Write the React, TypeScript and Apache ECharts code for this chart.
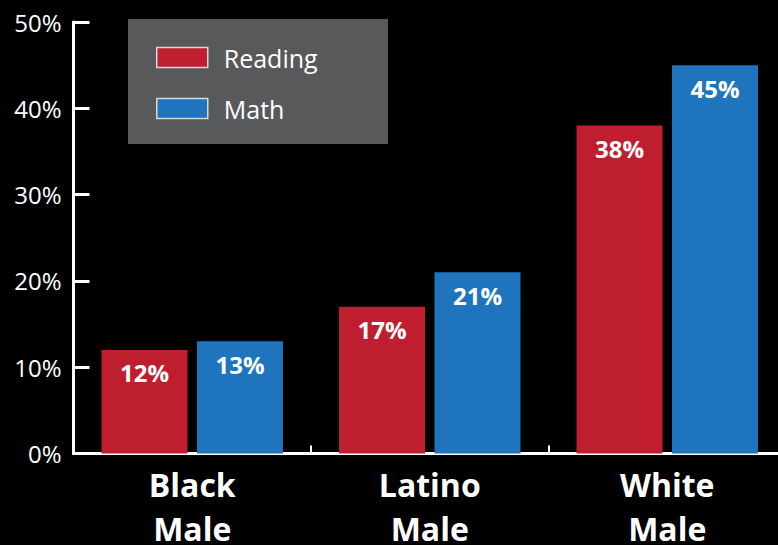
import React, { useEffect, useRef } from "react";
import * as echarts from "echarts";

const categories = ["Black\nMale", "Latino\nMale", "White\nMale"];
const readingValues = [12, 17, 38];
const mathValues = [13, 21, 45];
const yTicks = [0, 10, 20, 30, 40, 50];

const FONT = "'Open Sans', 'Noto Sans', sans-serif";

export default function App() {
  const ref = useRef<HTMLDivElement>(null);
  useEffect(() => {
    if (!ref.current) return;
    const chart = echarts.init(ref.current, null, { renderer: "svg" });
    const labelCfg = {
      show: true,
      position: "insideTop",
      distance: 11,
      color: "#ffffff",
      fontSize: 24,
      fontWeight: "bold",
      fontFamily: FONT,
      formatter: (p: any) => p.value + "%",
    };
    chart.setOption({
      animation: false,
      backgroundColor: "#000000",
      graphic: [
        {
          type: "rect",
          left: 128,
          top: 19,
          shape: { width: 260, height: 125 },
          style: { fill: "#58595b" },
          z: 0,
        },
      ],
      legend: {
        orient: "vertical",
        left: 151,
        top: 40,
        itemWidth: 51,
        itemHeight: 20,
        itemGap: 26,
        icon: "rect",
        z: 5,
        itemStyle: { borderColor: "#d8d8d8", borderWidth: 1.5 },
        textStyle: {
          color: "#ffffff",
          fontSize: 25,
          fontFamily: FONT,
          fontWeight: "normal",
          padding: [0, 0, 0, 11],
        },
        data: ["Reading", "Math"],
      },
      grid: {
        left: 73.5,
        right: -8,
        top: 22,
        bottom: 91.5,
        containLabel: false,
        outerBoundsMode: "none",
      },
      xAxis: {
        type: "category",
        data: categories,
        axisLine: { show: true, lineStyle: { color: "#ffffff", width: 3 } },
        axisTick: { show: true, inside: true, length: 8, lineStyle: { color: "#ffffff", width: 2 } },
        axisLabel: {
          color: "#ffffff",
          fontSize: 32,
          fontWeight: "bold",
          fontFamily: FONT,
          lineHeight: 44,
          margin: 9,
        },
      },
      yAxis: {
        type: "value",
        min: 0,
        max: 50,
        interval: 10,
        splitLine: { show: false },
        axisLine: { show: true, lineStyle: { color: "#ffffff", width: 3 } },
        axisTick: { show: true, inside: true, length: 16, lineStyle: { color: "#ffffff", width: 3 } },
        axisLabel: {
          color: "#ffffff",
          fontSize: 24,
          fontFamily: FONT,
          fontWeight: "normal",
          margin: 12,
          padding: [6, 0, 0, 0],
          formatter: (v: number) => (yTicks.includes(v) ? v + "%" : ""),
        },
      },
      series: [
        {
          name: "Reading",
          type: "bar",
          data: readingValues,
          barWidth: 86,
          barGap: "11%",
          itemStyle: { color: "#be1e2d" },
          label: labelCfg,
        },
        {
          name: "Math",
          type: "bar",
          data: mathValues,
          barWidth: 86,
          itemStyle: { color: "#1f75bd" },
          label: labelCfg,
        },
      ],
    });
    return () => chart.dispose();
  }, []);
  return (
    <div
      ref={ref}
      style={{ position: "fixed", left: 0, top: 0, width: 778, height: 545, background: "#000" }}
    />
  );
}
